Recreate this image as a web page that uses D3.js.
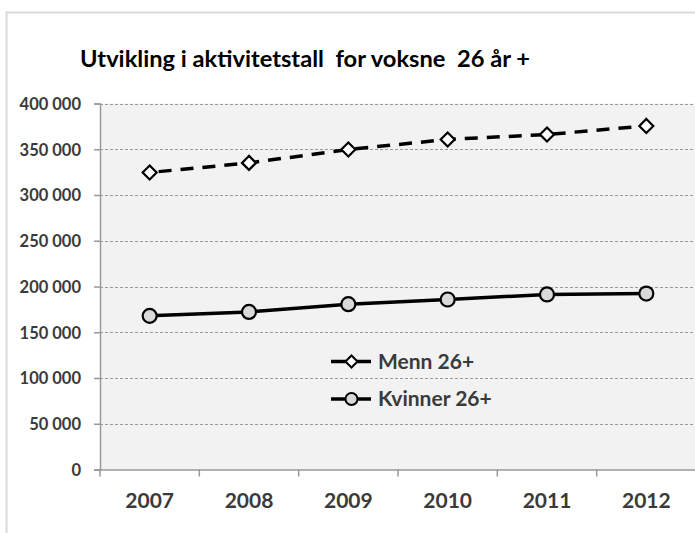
<!DOCTYPE html>
<meta charset="utf-8">
<body style="margin:0;background:#fff">
<script src="https://d3js.org/d3.v7.min.js"></script>
<style>
  text { font-family: Lato, "Open Sans", Arial, sans-serif; font-weight: bold; }
  .ytick { font-size: 16.5px; fill: #3a3a3a; }
  .xtick { font-size: 21px; fill: #3a3a3a; }
  .legend { font-size: 21px; fill: #3a3a3a; }
  .title { font-size: 22px; fill: #000; white-space: pre; }
</style>
<script>
var width = 695;
var height = 533;

var years = ["2007", "2008", "2009", "2010", "2011", "2012"];
var menn = [324600, 335100, 349700, 360700, 366100, 375500];
var kvinner = [167900, 172200, 180700, 185800, 191300, 192300];
var yTicks = [0, 50000, 100000, 150000, 200000, 250000, 300000, 350000, 400000];
var title = "Utvikling i aktivitetstall  for voksne  26 år +";

var svg = d3.select("body")
            .append("svg")
            .attr("width", width)
            .attr("height", height);

// outer chart frame
svg.append("rect")
   .attr("x", 6.5).attr("y", 12.5)
   .attr("width", 700).attr("height", 540)
   .attr("fill", "#fff")
   .attr("stroke", "#d9d9d9")
   .attr("stroke-width", 2);

var plotLeft = 100, plotRight = 696, plotTop = 103.5, plotBottom = 469.5;

var x = d3.scaleBand().domain(years).range([plotLeft, plotRight]);
var y = d3.scaleLinear().domain([0, 400000]).range([plotBottom, plotTop]);

// plot background
svg.append("rect")
   .attr("x", plotLeft).attr("y", plotTop)
   .attr("width", plotRight - plotLeft).attr("height", plotBottom - plotTop)
   .attr("fill", "#f2f2f2");

// gridlines
svg.selectAll(".grid")
   .data(yTicks.filter(function(d) { return d > 0; }))
   .enter().append("line")
   .attr("x1", plotLeft).attr("x2", plotRight)
   .attr("y1", function(d) { return Math.round(y(d)) + 0.5; })
   .attr("y2", function(d) { return Math.round(y(d)) + 0.5; })
   .attr("stroke", "#9a9a9a")
   .attr("stroke-dasharray", "3,2");

var fmt = function(d) { return d3.format(",")(d).replace(/,/g, " "); };

var yAxis = d3.axisLeft(y)
              .tickValues(yTicks)
              .tickSize(6)
              .tickPadding(13)
              .tickFormat(fmt);

var gy = svg.append("g")
   .attr("transform", "translate(" + plotLeft + ",0)")
   .call(yAxis);
gy.select(".domain").attr("stroke", "#999").attr("stroke-width", 1.5);
gy.selectAll(".tick line").attr("stroke", "#999").attr("stroke-width", 1.5);
gy.selectAll(".tick text").attr("class", "ytick").attr("font-family", null).attr("font-size", null)
  .attr("dy", "0.36em");

var xAxis = d3.axisBottom(x).tickSize(0).tickPadding(24);
var gx = svg.append("g")
   .attr("transform", "translate(0," + plotBottom + ")")
   .call(xAxis);
gx.select(".domain").attr("stroke", "#999").attr("stroke-width", 1.5);
gx.selectAll(".tick text").attr("class", "xtick").attr("font-family", null).attr("font-size", null);

// category separator ticks
svg.selectAll(".sep")
   .data(years)
   .enter().append("line")
   .attr("x1", function(d) { return x(d); })
   .attr("x2", function(d) { return x(d); })
   .attr("y1", plotBottom).attr("y2", plotBottom + 7)
   .attr("stroke", "#999").attr("stroke-width", 1.5);

var line = d3.line()
  .x(function(d, i) { return x(years[i]) + x.bandwidth() / 2; })
  .y(function(d) { return y(d); });

svg.append("path")
   .datum(kvinner)
   .attr("d", line)
   .attr("fill", "none")
   .attr("stroke", "#000")
   .attr("stroke-width", 3.5);

svg.append("path")
   .datum(menn)
   .attr("d", line)
   .attr("fill", "none")
   .attr("stroke", "#000")
   .attr("stroke-width", 3.5)
   .attr("stroke-dasharray", "13,9")
   .attr("stroke-dashoffset", -9);

var diamond = "M0,-7L7,0L0,7L-7,0Z";

svg.selectAll(".dm")
   .data(menn)
   .enter().append("path")
   .attr("d", diamond)
   .attr("transform", function(d, i) {
     return "translate(" + (x(years[i]) + x.bandwidth() / 2) + "," + y(d) + ")";
   })
   .attr("fill", "#fff")
   .attr("stroke", "#000")
   .attr("stroke-width", 2.2);

svg.selectAll(".ck")
   .data(kvinner)
   .enter().append("circle")
   .attr("cx", function(d, i) { return x(years[i]) + x.bandwidth() / 2; })
   .attr("cy", function(d) { return y(d); })
   .attr("r", 7)
   .attr("fill", "#d9d9d9")
   .attr("stroke", "#000")
   .attr("stroke-width", 2.2);

// legend
var legend = svg.append("g");
var lg = [
  {name: "Menn 26+", y: 361.5, type: "diamond"},
  {name: "Kvinner 26+", y: 399, type: "circle"}
];
lg.forEach(function(d) {
  legend.append("line")
    .attr("x1", 331).attr("x2", 371)
    .attr("y1", d.y).attr("y2", d.y)
    .attr("stroke", "#000").attr("stroke-width", 3.5);
  if (d.type == "diamond") {
    legend.append("path")
      .attr("d", "M0,-6L6,0L0,6L-6,0Z")
      .attr("transform", "translate(351.5," + d.y + ")")
      .attr("fill", "#fff").attr("stroke", "#000").attr("stroke-width", 2);
  } else {
    legend.append("circle")
      .attr("cx", 351.5).attr("cy", d.y).attr("r", 6)
      .attr("fill", "#d9d9d9").attr("stroke", "#000").attr("stroke-width", 2);
  }
  legend.append("text")
    .attr("class", "legend")
    .attr("x", 378).attr("y", d.y + 7)
    .text(d.name);
});

svg.append("text")
   .attr("class", "title")
   .attr("x", 80).attr("y", 67)
   .attr("textLength", 450)
   .attr("lengthAdjust", "spacingAndGlyphs")
   .text(title);
</script>
</body>
</html>
